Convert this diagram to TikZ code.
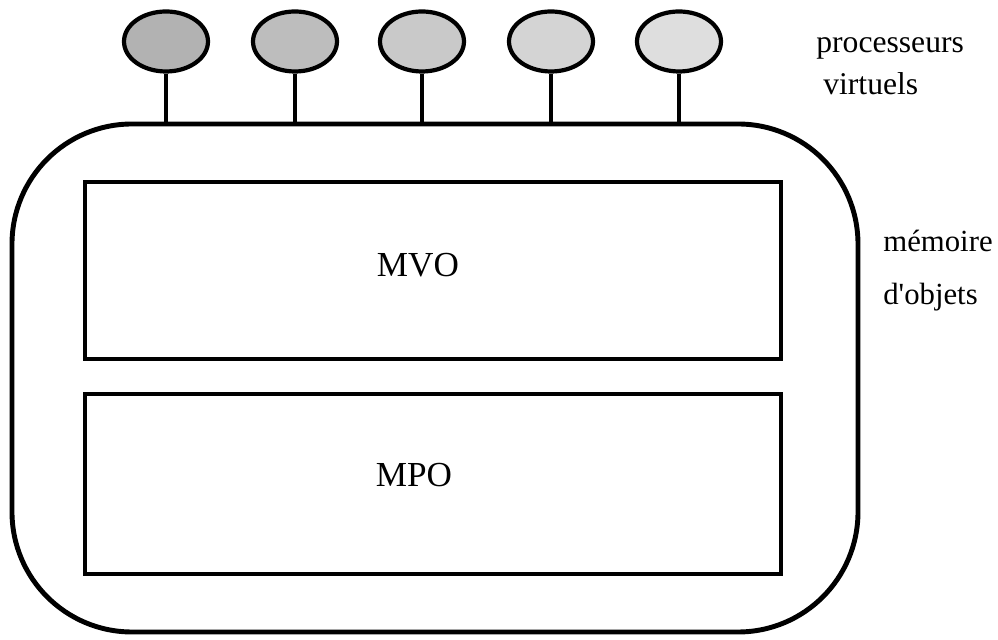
\documentclass[tikz,border=0pt]{standalone}
\usepackage{fontspec}
\setmainfont{Liberation Serif}
\usepackage{tikz}
\usetikzlibrary{positioning,shapes.geometric}

\begin{document}
\begin{tikzpicture}[
  font=\fontsize{18}{24}\selectfont,
  proc/.style={draw, ellipse, line width=2.4pt, minimum width=1.68cm, minimum height=1.2cm, inner sep=0pt},
  mem/.style={draw, rounded corners=2.4cm, line width=2.8pt, minimum width=16.92cm, minimum height=10.16cm},
  zone/.style={draw, rectangle, line width=2.2pt, minimum width=13.92cm},
  zonetxt/.style={anchor=base, inner sep=0pt, font=\fontsize{20}{24}\selectfont},
  stem/.style={line width=1.8pt},
  lbl/.style={inner sep=0pt, align=left, anchor=base west}
]
\useasboundingbox (0,0) rectangle (19.96,-12.8);

\node[mem] (memoire) at (8.7,-7.56) {};
\node[zone, minimum height=3.54cm] (mvo) at (8.66,-5.41) {};
\node[zone, minimum height=3.6cm] (mpo) at (8.66,-9.68) {};
\node[zonetxt] (mvotxt) at (8.36,-5.54) {MVO};
\node[zonetxt] (mpotxt) at (8.28,-9.74) {MPO};

\node[proc, fill=black!30] (p1) at (3.32,-0.83) {};
\node[proc, fill=black!26] (p2) at (5.90,-0.83) {};
\node[proc, fill=black!21] (p3) at (8.44,-0.83) {};
\node[proc, fill=black!17] (p4) at (11.02,-0.83) {};
\node[proc, fill=black!13] (p5) at (13.58,-0.83) {};

\draw[stem] (p1.south) -- (p1.south |- memoire.north);
\draw[stem] (p2.south) -- (p2.south |- memoire.north);
\draw[stem] (p3.south) -- (p3.south |- memoire.north);
\draw[stem] (p4.south) -- (p4.south |- memoire.north);
\draw[stem] (p5.south) -- (p5.south |- memoire.north);

% base anchor sits on the last line
\node[lbl, font=\fontsize{18}{23.9}\selectfont] (proclbl) at (16.32,-1.90) {processeurs\\\hspace*{0.14cm}virtuels};
\node[lbl, font=\fontsize{17.5}{30.2}\selectfont] (memlbl) at (17.66,-6.10) {mémoire\\d\textquotesingle objets};
\end{tikzpicture}
\end{document}
